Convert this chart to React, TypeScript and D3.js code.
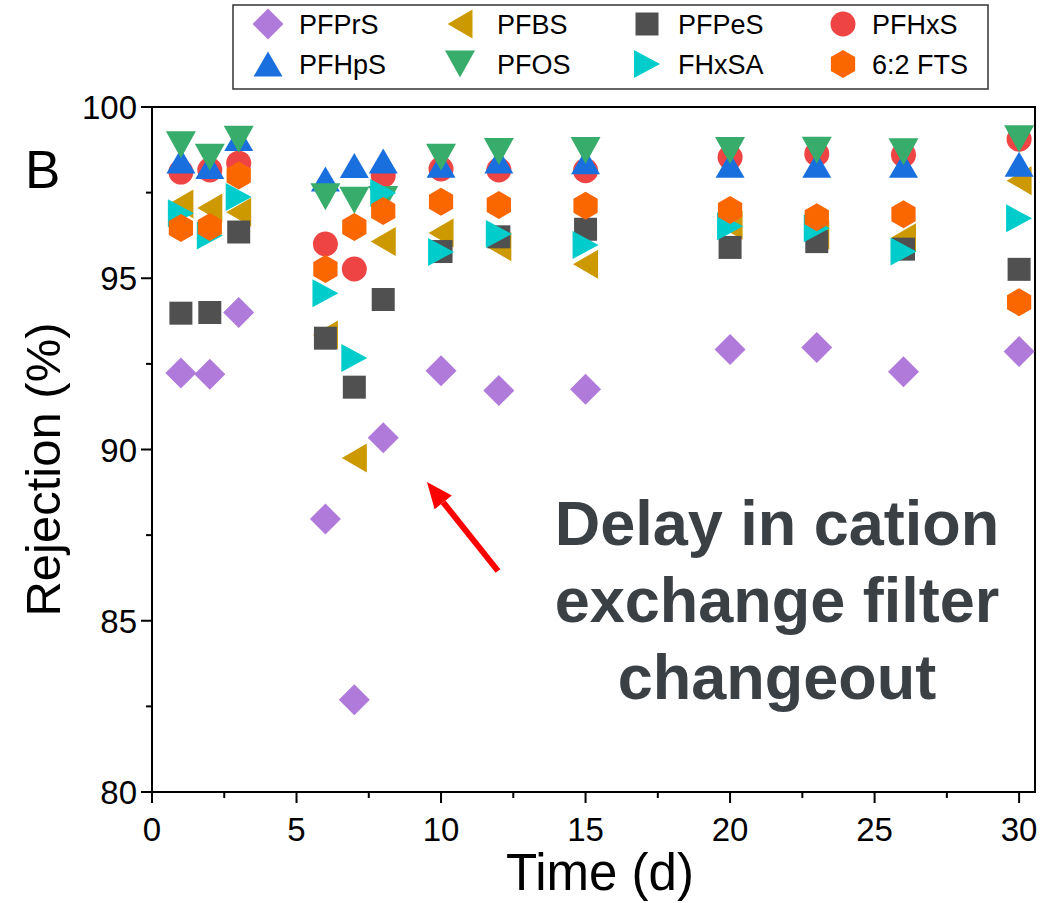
import React from "react";
import * as d3 from "d3";

const times = [1, 2, 3, 6, 7, 8, 10, 12, 15, 20, 23, 26, 30];

const PFPrS = [92.23, 92.2, 94.0, 87.97, 82.69, 90.34, 92.3, 91.72, 91.76, 92.92, 92.98, 92.27, 92.86];
const PFBS = [97.17, 97.05, 96.93, 93.34, 89.75, 96.07, 96.32, 95.92, 95.41, 96.55, 96.26, 96.18, 97.85];
const PFPeS = [93.98, 94.0, 96.35, 93.25, 91.82, 94.38, 95.78, 96.21, 96.43, 95.9, 96.07, 95.85, 95.26];
const PFHxS = [98.1, 98.16, 98.36, 96.0, 95.27, 98.0, 98.19, 98.16, 98.14, 98.53, 98.63, 98.6, 99.06];
const PFHpS = [98.42, 98.26, 99.08, 97.9, 98.29, 98.42, 98.3, 98.42, 98.4, 98.3, 98.3, 98.3, 98.33];
const PFOS = [98.9, 98.53, 99.06, 97.38, 97.28, 97.3, 98.53, 98.7, 98.73, 98.73, 98.74, 98.69, 99.07];
const FHxSA = [96.9, 96.25, 97.37, 94.56, 92.67, 97.49, 95.77, 96.29, 95.97, 96.52, 96.46, 95.78, 96.75];
const FTS62 = [96.47, 96.5, 98.0, 95.27, 96.5, 96.96, 97.23, 97.14, 97.12, 96.99, 96.78, 96.87, 94.3];

const seriesNames = ["PFPrS", "PFBS", "PFPeS", "PFHxS", "PFHpS", "PFOS", "FHxSA", "6:2 FTS"];
const seriesValues = [PFPrS, PFBS, PFPeS, PFHxS, PFHpS, PFOS, FHxSA, FTS62];
const seriesColors = ["#B07ADB", "#CC9900", "#505050", "#EF4444", "#1A6FDF", "#38AD6B", "#00CCCC", "#FA6600"];
const seriesShapes = ["diamond", "left", "square", "circle", "up", "down", "right", "hex"];

const xTicks = [0, 5, 10, 15, 20, 25, 30];
const yTicks = [80, 85, 90, 95, 100];
const annotationLines = ["Delay in cation", "exchange filter", "changeout"];

const FONT = "'Liberation Sans', Arial, Helvetica, sans-serif";

function shapePath(shape: string): string {
  switch (shape) {
    case "diamond":
      return "M0,-15.5L15.5,0L0,15.5L-15.5,0Z";
    case "left":
      return "M-12.5,0L12.5,-14.5L12.5,14.5Z";
    case "square":
      return "M-11.5,-11.5H11.5V11.5H-11.5Z";
    case "circle":
      return "M12.5,0A12.5,12.5 0 1,1 -12.5,0A12.5,12.5 0 1,1 12.5,0Z";
    case "up":
      return "M0,-12.5L14.5,12.5L-14.5,12.5Z";
    case "down":
      return "M0,13.5L15,-13.5L-15,-13.5Z";
    case "right":
      return "M13,0L-13,-14L-13,14Z";
    case "hex": {
      const r = 14;
      const pts = d3.range(6).map((i) => {
        const a = (-90 + 60 * i) * (Math.PI / 180);
        return [r * Math.cos(a), r * Math.sin(a)];
      });
      return "M" + pts.map((p) => p[0].toFixed(2) + "," + p[1].toFixed(2)).join("L") + "Z";
    }
  }
  return "";
}

export default function App() {
  const W = 1056;
  const H = 903;
  const left = 152;
  const right = 1035;
  const top = 107;
  const bottom = 792;

  const x = d3.scaleLinear().domain([0, 30.55]).range([left, right]);
  const y = d3.scaleLinear().domain([80, 100]).range([bottom, top]);

  const xMinor = d3.range(2.5, 30, 5);
  const yMinor = d3.range(82.5, 100, 5);

  const legendCols = [268, 460, 647, 843];
  const legendTextX = [299, 497, 678, 872];
  const legendRows = [24, 64];

  // arrow
  const ax0 = 498, ay0 = 571, ax1 = 427, ay1 = 482;
  const ang = Math.atan2(ay1 - ay0, ax1 - ax0);
  const headLen = 26, headW = 11;
  const bx = ax1 - headLen * Math.cos(ang);
  const by = ay1 - headLen * Math.sin(ang);
  const px = -Math.sin(ang), py = Math.cos(ang);
  const headPath = `M${ax1},${ay1}L${bx + headW * px},${by + headW * py}L${bx - headW * px},${by - headW * py}Z`;

  return (
    <svg
      width={W}
      height={H}
      style={{ position: "absolute", left: 0, top: 0, background: "#fff" }}
      fontFamily={FONT}
    >
      <rect x={0} y={0} width={W} height={H} fill="#fff" />
      {/* legend */}
      <rect x={233} y={5} width={755} height={84} fill="#fff" stroke="#333" strokeWidth={1.5} />
      {seriesNames.map((name, i) => {
        const col = i % 4;
        const row = Math.floor(i / 4);
        return (
          <g key={name}>
            <path
              d={shapePath(seriesShapes[i])}
              transform={`translate(${legendCols[col]},${legendRows[row]})`}
              fill={seriesColors[i]}
            />
            <text x={legendTextX[col]} y={legendRows[row] + 10} fontSize={27} fill="#000">
              {name}
            </text>
          </g>
        );
      })}

      {/* plot frame */}
      <rect x={left} y={top} width={right - left} height={bottom - top} fill="none" stroke="#000" strokeWidth={2} />

      {/* x ticks */}
      {xTicks.map((t) => (
        <g key={"xt" + t}>
          <line x1={x(t)} x2={x(t)} y1={bottom} y2={bottom + 11} stroke="#000" strokeWidth={2} />
          <text x={x(t)} y={bottom + 49} fontSize={33} textAnchor="middle" fill="#000">
            {t}
          </text>
        </g>
      ))}
      {xMinor.map((t) => (
        <line key={"xm" + t} x1={x(t)} x2={x(t)} y1={bottom} y2={bottom + 6} stroke="#000" strokeWidth={2} />
      ))}
      {/* y ticks */}
      {yTicks.map((t) => (
        <g key={"yt" + t}>
          <line x1={left - 11} x2={left} y1={y(t)} y2={y(t)} stroke="#000" strokeWidth={2} />
          <text x={left - 15} y={y(t) + 12} fontSize={33} textAnchor="end" fill="#000">
            {t}
          </text>
        </g>
      ))}
      {yMinor.map((t) => (
        <line key={"ym" + t} x1={left - 6} x2={left} y1={y(t)} y2={y(t)} stroke="#000" strokeWidth={2} />
      ))}

      {/* axis titles */}
      <text x={600} y={890} fontSize={51} textAnchor="middle" fill="#000">
        Time (d)
      </text>
      <text
        transform={`translate(60,${(top + bottom) / 2 + 20}) rotate(-90)`}
        fontSize={49}
        textAnchor="middle"
        fill="#000"
      >
        Rejection (%)
      </text>
      <text x={25} y={188} fontSize={53} fill="#000">
        B
      </text>

      {/* data */}
      {seriesValues.map((vals, si) => (
        <g key={"s" + si} fill={seriesColors[si]}>
          {vals.map((v, i) => (
            <path
              key={i}
              d={shapePath(seriesShapes[si])}
              transform={`translate(${x(times[i])},${y(v)})`}
            />
          ))}
        </g>
      ))}

      {/* annotation */}
      {annotationLines.map((ln, i) => (
        <text
          key={ln}
          x={777}
          y={545 + i * 77}
          fontSize={63}
          fontWeight="bold"
          textAnchor="middle"
          fill="#3B4045"
        >
          {ln}
        </text>
      ))}
      <line x1={ax0} y1={ay0} x2={bx} y2={by} stroke="#FF0000" strokeWidth={6} />
      <path d={headPath} fill="#FF0000" />
    </svg>
  );
}
